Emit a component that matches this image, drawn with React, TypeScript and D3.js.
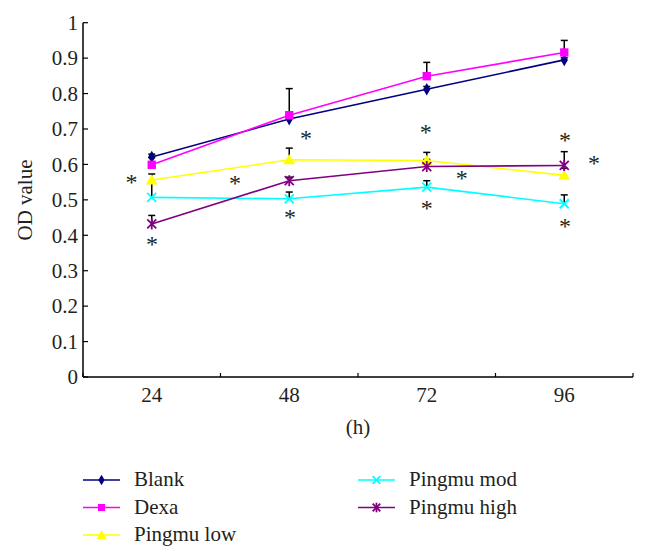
import React from "react";
import * as d3 from "d3";

const categories = ["24", "48", "72", "96"];
const seriesNames = ["Blank", "Dexa", "Pingmu low", "Pingmu mod", "Pingmu high"];
const blank = [0.621, 0.728, 0.812, 0.895];
const dexa = [0.599, 0.739, 0.849, 0.916];
const pingmuLow = [0.556, 0.613, 0.611, 0.569];
const pingmuMod = [0.507, 0.503, 0.536, 0.489];
const pingmuHigh = [0.432, 0.554, 0.594, 0.597];
const blankErr = [0.008, 0.006, 0.008, 0.006];
const dexaErr = [0.02, 0.075, 0.039, 0.034];
const lowErr = [0.017, 0.033, 0.023, 0.02];
const modErr = [0.045, 0.019, 0.018, 0.025];
const highErr = [0.024, 0.01, 0.02, 0.039];
const yTicks = [0, 0.1, 0.2, 0.3, 0.4, 0.5, 0.6, 0.7, 0.8, 0.9, 1];
// asterisk annotations: [category index offset, value]
const asterisks: [number, number][] = [
  [-0.147, 0.561],
  [0.605, 0.56],
  [1.122, 0.685],
  [1.992, 0.703],
  [3.005, 0.681],
  [3.216, 0.615],
  [2.254, 0.573],
  [0.002, 0.387],
  [1.005, 0.462],
  [2.0, 0.489],
  [3.005, 0.437],
];

const colors = ["#000080", "#FF00FF", "#FFFF00", "#00FFFF", "#800080"];
const markers = ["diamond", "square", "triangle", "x", "star"];
const values = [blank, dexa, pingmuLow, pingmuMod, pingmuHigh];
const errors = [blankErr, dexaErr, lowErr, modErr, highErr];

const FONT = "Liberation Serif";
const TXT = { fontFamily: FONT };

function Marker({ type, x, y, color, s = 1 }: { type: string; x: number; y: number; color: string; s?: number }) {
  if (type === "diamond") {
    const p = d3.symbol(d3.symbolDiamond, 46 * s * s)();
    return <path d={p || ""} transform={`translate(${x},${y})`} fill={color} />;
  }
  if (type === "square") {
    const p = d3.symbol(d3.symbolSquare, 70 * s * s)();
    return <path d={p || ""} transform={`translate(${x},${y})`} fill={color} />;
  }
  if (type === "triangle") {
    const p = d3.symbol(d3.symbolTriangle, 60 * s * s)();
    return <path d={p || ""} transform={`translate(${x},${y + 1})`} fill={color} />;
  }
  const r = 4.5 * s;
  if (type === "x") {
    return (
      <g stroke={color} strokeWidth={1.8}>
        <line x1={x - r} y1={y - r} x2={x + r} y2={y + r} />
        <line x1={x - r} y1={y + r} x2={x + r} y2={y - r} />
      </g>
    );
  }
  return (
    <g stroke={color} strokeWidth={1.8}>
      <line x1={x - r} y1={y - r} x2={x + r} y2={y + r} />
      <line x1={x - r} y1={y + r} x2={x + r} y2={y - r} />
      <line x1={x} y1={y - r - 1} x2={x} y2={y + r + 1} />
    </g>
  );
}

export default function App() {
  const left = 83;
  const right = 633;
  const top = 22.7;
  const bottom = 377;
  const x = d3.scaleBand<string>().domain(categories).range([left, right]).padding(0);
  const cx = (c: string) => (x(c) as number) + x.bandwidth() / 2;
  const xi = (i: number) => cx(categories[0]) + i * x.bandwidth();
  const y = d3.scaleLinear().domain([0, 1]).range([bottom, top]);
  const line = d3
    .line<number>()
    .x((_, i) => cx(categories[i]))
    .y((d) => y(d));
  const bounds = d3.range(categories.length + 1).map((i) => left + i * x.bandwidth());
  const legendPos = [
    [83, 480],
    [83, 507.5],
    [83, 535],
    [358, 480],
    [358, 507.5],
  ];

  return (
    <svg width={648} height={559} style={{ position: "absolute", left: 0, top: 0, background: "#fff", fontFamily: FONT }}>
      <rect width={648} height={559} fill="#fff" />
      {/* axes */}
      <line x1={left} y1={top} x2={left} y2={bottom} stroke="#000" strokeWidth={1.5} />
      <line x1={left} y1={bottom} x2={right} y2={bottom} stroke="#000" strokeWidth={1.5} />
      {yTicks.map((t) => (
        <g key={t}>
          <line x1={left} x2={left + 5} y1={y(t)} y2={y(t)} stroke="#000" strokeWidth={1.2} />
          <text x={78} y={y(t)} dy="0.35em" textAnchor="end" fontSize={21} fill="#231f20" style={TXT}>
            {String(t)}
          </text>
        </g>
      ))}
      {bounds.map((b, i) => (
        <line key={i} x1={b} x2={b} y1={bottom} y2={bottom - 4} stroke="#000" strokeWidth={1.2} />
      ))}
      {categories.map((c) => (
        <text key={c} x={cx(c)} y={402} textAnchor="middle" fontSize={21} fill="#231f20" style={TXT}>
          {c}
        </text>
      ))}
      <text x={(left + right) / 2} y={434} textAnchor="middle" fontSize={21} fill="#231f20" style={TXT}>
        (h)
      </text>
      <text
        transform={`translate(32,200) rotate(-90)`}
        textAnchor="middle"
        fontSize={21}
        fill="#231f20"
        style={TXT}
      >
        OD value
      </text>
      {/* error bars */}
      {values.map((vals, si) =>
        vals.map((v, i) => {
          const xx = cx(categories[i]);
          const yt = y(v + errors[si][i]);
          return (
            <g key={`${si}-${i}`} stroke="#000" strokeWidth={1.5}>
              <line x1={xx} x2={xx} y1={y(v)} y2={yt} />
              <line x1={xx - 3.5} x2={xx + 3.5} y1={yt} y2={yt} />
            </g>
          );
        })
      )}
      {/* lines */}
      {values.map((vals, si) => (
        <path key={si} d={line(vals) || ""} fill="none" stroke={colors[si]} strokeWidth={1.6} />
      ))}
      {values.map((vals, si) =>
        vals.map((v, i) => (
          <Marker key={`${si}-${i}`} type={markers[si]} x={cx(categories[i])} y={y(v)} color={colors[si]} />
        ))
      )}
      {/* asterisks */}
      {asterisks.map(([xo, v], i) => (
        <text key={i} x={xi(xo)} y={y(v) + 12} textAnchor="middle" fontSize={24} fill="#231f20" style={TXT}>
          *
        </text>
      ))}
      {/* legend */}
      {seriesNames.map((n, i) => {
        const [lx, ly] = legendPos[i];
        return (
          <g key={n}>
            <line x1={lx} x2={lx + 37} y1={ly} y2={ly} stroke={colors[i]} strokeWidth={1.6} />
            <Marker type={markers[i]} x={lx + 18.5} y={ly} color={colors[i]} s={0.85} />
            <text x={lx + 51} y={ly + 6} fontSize={21} fill="#231f20" style={TXT}>
              {n}
            </text>
          </g>
        );
      })}
    </svg>
  );
}
